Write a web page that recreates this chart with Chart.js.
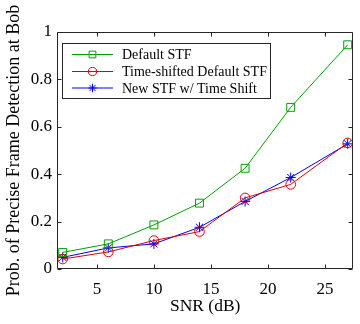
<!DOCTYPE html>
<html>
<head>
<meta charset="utf-8">
<script src="https://cdn.jsdelivr.net/npm/chart.js@4/dist/chart.umd.min.js"></script>
<style>
html,body{margin:0;padding:0;background:#fff;}
#wrap{width:360px;height:324px;}
</style>
</head>
<body>
<div id="wrap"><canvas id="c" width="360" height="324"></canvas></div>
<script>
const snr = [2, 6, 10, 14, 18, 22, 27];
const defaultSTF = [0.070, 0.106, 0.186, 0.278, 0.425, 0.682, 0.946];
const shiftedSTF = [0.042, 0.072, 0.120, 0.158, 0.300, 0.357, 0.532];
const newSTF = [0.049, 0.089, 0.106, 0.176, 0.285, 0.386, 0.528];
const seriesNames = ['Default STF', 'Time-shifted Default STF', 'New STF w/ Time Shift'];
const xTicks = [5, 10, 15, 20, 25];
const yTicks = [0, 0.2, 0.4, 0.6, 0.8, 1];
const xTitle = 'SNR (dB)';
const yTitle = 'Prob. of Precise Frame Detection at Bob';

const FONT = "'Liberation Serif', 'Times New Roman', serif";
const colors = ['#00a000', '#dd0000', '#0000ff'];
const styles = ['rect', 'circle', 'star'];
const radii = [5.6, 4.8, 5];

function pts(ys){ return snr.map((x,i)=>({x:x, y:ys[i]})); }

const datasets = [defaultSTF, shiftedSTF, newSTF].map((ys,i)=>({
  label: seriesNames[i],
  data: pts(ys),
  borderColor: colors[i],
  backgroundColor: 'rgba(0,0,0,0)',
  borderWidth: 1,
  pointStyle: styles[i],
  pointRadius: radii[i],
  pointBorderColor: colors[i],
  pointBackgroundColor: 'rgba(0,0,0,0)',
  pointBorderWidth: 1,
  tension: 0
}));

const framePlugin = {
  id: 'frame',
  afterDraw(chart){
    const ctx = chart.ctx, a = chart.chartArea;
    const xs = chart.scales.x, ys = chart.scales.y;
    ctx.save();
    ctx.strokeStyle = '#262626';
    ctx.lineWidth = 1;
    const L = Math.round(a.left)+0.5, R = Math.round(a.right)-0.5;
    const T = Math.round(a.top)+0.5, B = Math.round(a.bottom)-0.5;
    ctx.beginPath();
    ctx.rect(L, T, R-L, B-T);
    ctx.stroke();
    const tl = 4;
    ctx.beginPath();
    xTicks.forEach(v=>{
      const px = Math.round(xs.getPixelForValue(v))+0.5;
      ctx.moveTo(px, B); ctx.lineTo(px, B-tl);
      ctx.moveTo(px, T); ctx.lineTo(px, T+tl);
    });
    yTicks.forEach(v=>{
      const py = Math.round(ys.getPixelForValue(v))+0.5;
      ctx.moveTo(L, py); ctx.lineTo(L+tl, py);
      ctx.moveTo(R, py); ctx.lineTo(R-tl, py);
    });
    ctx.stroke();

    // legend
    const bx = 62.5, by = 43.5, bw = 208, bh = 55;
    ctx.fillStyle = '#fff';
    ctx.fillRect(bx, by, bw, bh);
    ctx.strokeStyle = '#262626';
    ctx.strokeRect(bx, by, bw, bh);
    const rows = [54.5, 71.5, 88];
    chart.data.datasets.forEach((ds,i)=>{
      const y = rows[i];
      ctx.strokeStyle = ds.borderColor;
      ctx.lineWidth = 1;
      ctx.beginPath();
      ctx.moveTo(72, y); ctx.lineTo(113, y);
      ctx.stroke();
      ctx.fillStyle = 'rgba(0,0,0,0)';
      ctx.strokeStyle = ds.borderColor;
      Chart.helpers.drawPoint(ctx, {pointStyle: ds.pointStyle, radius: ds.pointRadius*0.85, rotation: 0, borderWidth: 1}, 92.5, y);
      ctx.fillStyle = '#000';
      ctx.font = '14px ' + FONT;
      ctx.textBaseline = 'middle';
      ctx.textAlign = 'left';
      ctx.fillText(ds.label, 122, y+1);
    });
    ctx.restore();
  }
};

new Chart(document.getElementById('c'), {
  type: 'line',
  data: { datasets },
  options: {
    responsive: false,
    animation: false,
    devicePixelRatio: 1,
    layout: { padding: { top: 32, right: 2, left: 0, bottom: 0 } },
    plugins: { legend: { display: false }, tooltip: { enabled: false } },
    scales: {
      x: {
        type: 'linear',
        min: 1.5, max: 27.5,
        afterBuildTicks: s => { s.ticks = xTicks.map(v=>({value:v})); },
        afterFit: s => { s.height = 55; },
        grid: { display: false, drawTicks: false },
        border: { display: false },
        ticks: { color: '#000', font: { family: FONT, size: 17 }, padding: 10, maxRotation: 0 },
        title: { display: true, text: xTitle, color: '#000', font: { family: FONT, size: 17.5 }, padding: { top: 0, bottom: 7 } }
      },
      y: {
        type: 'linear',
        min: 0, max: 1,
        afterBuildTicks: s => { s.ticks = yTicks.map(v=>({value:v})); },
        afterFit: s => { s.width = 57; },
        grid: { display: false, drawTicks: false },
        border: { display: false },
        ticks: { color: '#000', font: { family: FONT, size: 17 }, padding: 5, callback: v => String(v) },
        title: { display: true, text: yTitle, color: '#000', font: { family: FONT, size: 18 }, padding: { top: 3, bottom: 0 } }
      }
    }
  },
  plugins: [framePlugin]
});
</script>
</body>
</html>
